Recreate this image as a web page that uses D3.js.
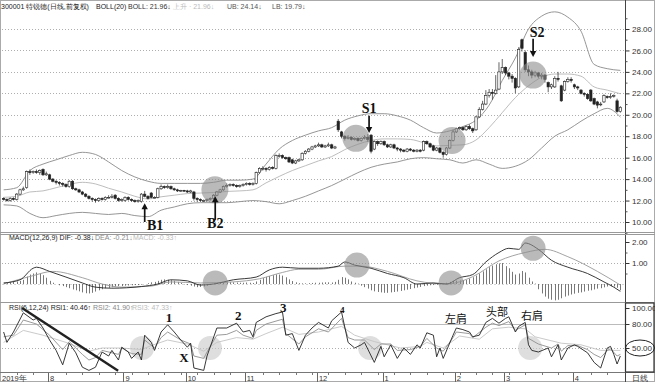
<!DOCTYPE html>
<html>
<head>
<meta charset="utf-8">
<script src="https://cdn.jsdelivr.net/npm/d3@7"></script>
<style>
  body { margin: 0; background: #fff; }
  text { font-family: "Liberation Sans", Arial, sans-serif; }
</style>
</head>
<body>
<svg id="chart" width="655" height="382"></svg>
<script>
// daily candles, 2019-07 .. 2020-04
var opens = [
  12.2,12.1,12.0,12.2,12.1,12.6,13.0,13.2,14.7,14.6,
  14.7,14.6,14.9,14.4,14.4,14.0,13.8,13.7,13.6,13.5,
  13.3,13.8,13.1,13.0,12.8,12.6,12.4,12.2,12.1,12.0,
  12.2,12.1,12.3,12.3,12.5,12.2,12.0,12.0,12.3,12.1,
  12.0,11.9,11.9,12.6,12.4,12.7,12.3,12.3,13.1,13.3,
  13.2,13.3,13.1,13.0,12.9,12.95,12.9,12.8,12.8,12.2,
  12.1,12.0,12.0,12.1,12.2,12.5,12.8,13.0,13.3,13.4,
  13.5,13.4,13.3,13.4,13.5,13.6,13.5,13.6,14.6,15.0,
  15.0,14.9,15.1,15.0,16.2,16.2,16.0,16.0,15.8,15.5,
  15.7,15.8,16.4,16.6,16.8,17.0,17.1,17.2,17.0,17.1,
  17.2,16.9,19.4,18.4,18.0,17.8,17.9,17.7,17.8,17.6,
  17.8,17.9,18.1,16.8,17.5,17.3,17.5,17.2,17.0,17.2,
  16.9,16.8,16.7,16.6,16.8,16.7,16.6,16.7,16.7,17.5,
  17.3,17.1,16.7,16.9,16.5,16.3,16.9,17.6,18.4,18.7,
  18.8,18.6,18.9,18.7,18.6,19.8,20.5,21.0,21.8,22.1,
  22.0,22.4,24.0,24.4,23.9,23.6,23.4,22.6,27.0,25.8,
  24.2,24.0,23.7,23.9,23.6,23.7,23.0,22.6,22.6,23.4,
  22.7,22.3,23.1,23.3,22.8,22.6,22.3,22.0,21.9,22.3,
  21.5,21.2,21.0,21.2,21.7,21.6,21.8,21.3,20.3
];
var highs = [
  12.3,12.2,12.3,12.3,12.7,13.1,13.3,14.8,14.9,14.8,
  14.9,14.9,15.0,14.7,14.5,14.1,13.9,13.8,13.7,13.6,
  13.9,13.9,13.2,13.1,12.9,12.7,12.5,12.3,12.2,12.3,
  12.3,12.4,12.5,12.6,12.6,12.3,12.2,12.4,12.4,12.2,
  12.1,12.1,12.7,12.9,12.5,12.8,12.4,13.2,13.5,13.4,
  13.5,13.4,13.2,13.1,13.0,13.0,13.0,13.0,12.9,12.3,
  12.2,12.1,12.2,12.3,12.6,12.9,13.1,13.4,13.6,13.6,
  13.6,13.5,13.5,13.6,13.7,13.7,13.7,14.7,15.1,15.2,
  15.1,15.2,15.2,16.3,16.4,16.3,16.1,16.1,15.9,15.8,
  15.9,16.5,16.7,16.9,17.1,17.2,17.4,17.3,17.2,17.4,
  17.3,17.1,19.6,18.5,18.1,18.1,18.0,17.9,17.9,17.9,
  18.1,18.2,18.2,17.6,17.6,17.6,17.6,17.3,17.3,17.3,
  17.0,16.9,16.8,16.9,16.9,16.8,16.8,16.8,17.6,17.6,
  17.4,17.2,17.0,17.0,16.6,17.0,17.7,18.6,18.8,18.9,
  18.9,19.0,19.1,18.8,19.9,20.7,21.3,22.3,22.4,22.4,
  23.7,24.9,25.2,24.5,24.0,23.8,23.5,26.3,27.1,26.0,
  24.6,24.2,24.1,24.0,23.9,23.8,23.1,22.9,23.6,24.0,
  22.8,23.2,23.5,23.5,22.9,22.7,22.4,22.1,22.0,22.4,
  21.6,21.3,21.2,21.9,21.8,22.0,21.9,21.5,20.8
];
var lows = [
  12.0,11.9,11.9,12.0,12.0,12.5,12.9,13.1,14.4,14.5,
  14.5,14.4,14.3,14.3,13.9,13.7,13.5,13.4,13.3,13.2,
  13.2,13.0,12.9,12.7,12.5,12.3,12.1,11.9,11.8,11.9,
  12.0,12.0,12.2,12.2,12.1,11.9,11.9,11.9,12.0,11.9,
  11.8,11.8,11.8,12.3,12.1,12.2,12.2,12.2,13.0,13.1,
  13.1,13.0,12.9,12.8,12.8,12.8,12.7,12.7,12.0,11.9,
  11.9,11.9,11.9,12.0,12.1,12.4,12.7,12.9,13.2,13.3,
  13.3,13.2,13.2,13.3,13.4,13.4,13.4,13.5,14.5,14.8,
  14.7,14.8,14.9,14.9,16.0,15.9,15.8,15.5,15.4,15.4,
  15.6,15.7,16.3,16.5,16.7,16.9,17.0,16.9,16.9,17.0,
  16.8,16.8,18.4,17.8,17.6,17.7,17.6,17.6,17.5,17.5,
  17.7,17.5,16.4,16.7,17.1,17.2,17.1,16.9,16.9,16.8,
  16.6,16.5,16.5,16.5,16.6,16.5,16.5,16.5,16.6,17.2,
  16.9,16.6,16.6,16.4,16.0,16.2,16.8,17.5,18.3,18.6,
  18.5,18.5,18.6,18.3,18.5,19.7,20.4,20.9,21.6,21.4,
  21.9,22.3,23.8,23.7,23.3,23.0,22.0,22.5,25.9,24.0,
  23.6,23.4,23.5,23.4,23.3,23.0,22.1,22.4,22.5,23.1,
  21.2,22.2,23.0,23.0,22.4,22.3,21.9,21.7,21.4,21.2,
  20.9,20.6,20.8,21.1,21.5,21.5,21.6,20.2,20.2
];
var closes = [
  12.1,12.0,12.2,12.1,12.6,13.0,13.1,14.7,14.6,14.7,
  14.6,14.8,14.4,14.5,14.0,13.8,13.7,13.6,13.5,13.3,
  13.8,13.1,13.0,12.8,12.6,12.4,12.2,12.1,12.0,12.2,
  12.1,12.3,12.3,12.4,12.2,12.0,12.1,12.3,12.1,12.0,
  11.9,12.0,12.6,12.4,12.2,12.3,12.3,13.1,13.3,13.2,
  13.3,13.1,13.0,12.9,12.95,12.9,12.8,12.9,12.2,12.1,
  12.0,12.0,12.1,12.2,12.5,12.8,13.0,13.3,13.4,13.5,
  13.4,13.3,13.4,13.5,13.6,13.5,13.6,14.6,15.0,15.0,
  14.9,15.1,15.0,16.2,16.2,16.0,15.9,15.6,15.5,15.7,
  15.8,16.4,16.6,16.8,17.0,17.1,17.2,17.0,17.1,17.2,
  16.9,17.0,18.6,18.0,17.8,17.9,17.7,17.8,17.6,17.8,
  17.9,17.7,16.6,17.5,17.3,17.5,17.2,17.0,17.2,16.9,
  16.8,16.7,16.6,16.8,16.7,16.6,16.7,16.6,17.5,17.3,
  17.0,16.7,16.9,16.5,16.3,16.9,17.6,18.4,18.7,18.8,
  18.6,18.9,18.7,18.5,19.8,20.5,21.0,21.8,22.1,22.0,
  22.3,24.0,24.4,23.9,23.6,23.4,22.5,26.1,26.2,24.2,
  24.0,23.7,23.9,23.6,23.7,23.3,22.6,22.8,23.4,23.3,
  21.3,23.1,23.3,23.2,22.6,22.5,22.0,21.9,21.5,21.3,
  21.0,20.9,21.0,21.8,21.6,21.7,21.8,20.3,20.7
];

// BOLL(20) read every 4th day
var bollDays = d3.range(0, 189, 4);
var bollUpper = [
  13.0,13.2,14.8,15.4,15.8,16.2,16.5,16.3,15.6,14.8,
  14.2,13.8,13.6,13.6,13.6,13.6,13.7,13.9,13.9,14.0,
  15.4,16.8,17.6,18.1,18.5,18.8,19.5,19.9,20.1,20.1,
  19.9,19.5,18.8,18.3,18.5,18.9,19.5,20.9,23.2,25.3,
  28.0,29.2,29.6,29.1,27.8,24.7,24.3,24.14
];
var bollMid = [
  12.3,12.4,12.8,12.9,13.2,13.5,13.7,13.55,13.15,12.8,
  12.4,12.15,12.35,12.5,12.65,12.7,12.75,12.85,12.9,13.0,
  13.65,14.25,14.8,15.25,15.7,16.1,16.75,17.25,17.6,17.75,
  17.75,17.7,17.4,17.1,17.15,17.2,17.65,18.8,20.2,21.6,
  22.7,23.5,23.8,23.8,23.6,22.6,22.3,21.96
];
var bollLower = [
  11.6,11.5,10.8,10.4,10.6,10.8,10.9,10.8,10.7,10.8,
  10.6,10.5,11.1,11.4,11.7,11.8,11.8,11.8,11.9,12.0,
  11.9,11.7,12.0,12.4,12.9,13.4,14.0,14.6,15.1,15.4,
  15.6,15.9,16.0,15.9,15.8,15.5,15.8,15.4,15.0,15.2,
  15.8,16.9,18.0,18.6,19.4,20.1,20.6,19.79
];

// MACD(12,26,9)
var difDays = [0,5,9,10,14,19,24,28,33,42, 47,51,56,60,64,70,77,81,85,90,
  96,102,104,107,112,117,122,126,131,135, 139,143,147,151,154,157,159,163,167,172, 178,183,186,188];
var difValues = [0.05,0.2,0.75,0.8,0.6,0.33,0.05,-0.15,-0.2,-0.12, 0.0,0.2,0.15,-0.05,0.0,0.2,0.33,0.67,0.8,0.75,
  0.75,0.85,1.05,0.9,0.75,0.5,0.3,0.0,0.05,0.0, 0.3,0.45,1.05,1.5,1.7,1.65,1.95,1.65,1.13,0.8, 0.5,0.1,-0.15,-0.35];
var deaDays = [0,9,15,24,30,36,45,51,60,70,78,85,90,96,104,109,117,126,135,143,151,159,165,172,181,188];
var deaValues = [0.0,0.4,0.6,0.3,0.0,-0.15,-0.1,0.1,0.05,0.1,0.25,0.55,0.7,0.7,0.85,0.85,0.6,0.15,0.0,0.35,1.1,1.5,1.65,1.3,0.6,-0.05];
var macdBars = [
  0.05,0.06,0.08,0.1,0.12,0.15,0.2,0.35,0.45,0.5,0.55,0.5,0.42,0.3,
  0.15,0.06,0.0,
  -0.06,-0.1,-0.15,-0.2,-0.26,-0.3,-0.35,-0.4,-0.44,-0.45,-0.42,-0.36,-0.3,
  -0.25,-0.2,-0.18,-0.15,-0.12,-0.1,-0.1,-0.08,-0.07,-0.06,-0.05,-0.05,-0.03,0.0,0.04,
  0.08,0.1,0.15,0.2,0.22,0.2,0.18,0.15,0.1,0.05,
  -0.02,-0.05,-0.08,-0.12,-0.15,-0.14,-0.12,-0.08,-0.04,
  0.02,0.04,0.06,0.08,0.08,0.09,0.08,0.07,0.06,0.06,0.07,0.06,0.05,
  0.12,0.2,0.28,0.34,0.38,0.42,0.46,0.45,0.4,0.32,
  0.22,0.14,0.08,0.04,0.03,0.03,0.04,0.05,0.06,
  0.06,0.07,0.08,0.08,0.07,0.1,0.2,0.33,0.3,0.22,0.12,0.06,0.02,
  -0.08,-0.15,-0.22,-0.3,-0.35,-0.38,-0.4,-0.42,-0.42,-0.4,-0.38,-0.36,-0.33,-0.3,-0.27,-0.24,-0.2,-0.17,
  -0.14,-0.1,-0.08,-0.06,-0.05,-0.04,-0.02,0.0,
  0.06,0.1,0.14,0.16,0.17,0.18,0.2,
  0.26,0.32,0.4,0.5,0.6,0.7,0.8,0.88,0.94,0.98,1.0,
  0.85,0.75,0.58,0.45,0.5,0.62,0.55,0.3,
  0.12,0.02,
  -0.25,-0.45,-0.6,-0.7,-0.75,-0.78,-0.75,-0.68,-0.6,-0.55,-0.5,
  -0.46,-0.42,-0.4,-0.36,-0.32,-0.3,-0.26,-0.22,-0.2,-0.16,-0.12,
  -0.1,-0.12,-0.18,-0.3
];

// RSI(6,12,24)
var rsi1Days = [0,1,3,6,9,10,12,14,16,18, 20,22,24,26,28,30,32,33,35,36, 38,39,41,42,43,45,46,48,50,52,
  54,56,57,58,61,62,65,68,71,73, 75,76,77,80,83,85,86,88,90,92, 94,96,99,100,103,105,107,109,110,113,
  115,116,118,120,122,124,126,127,129,131, 132,133,134,137,138,140,142,143,145,147,
  149,151,153,154,156,157,159,160,161,163, 166,167,169,170,172,174,175,178,180,182, 184,185,186,187,188];
var rsi1Values = [70,57,70,94,85,87,75,60,47,29, 56,44,26,22,26,45,40,47,35,51, 45,37,45,35,66,57,47,70,79,70,
  60,51,56,25,22,40,75,75,81,70, 72,64,82,89,93,95,66,68,47,66, 75,82,75,84,95,57,50,54,57,32,
  52,39,54,37,50,42,54,50,69,66, 39,50,37,66,75,73,70,64,66,82,
  87,81,87,89,70,77,82,54,47,45, 50,39,54,35,50,54,52,44,32,25, 50,52,42,30,40];
var rsi2Days = [0,3,6,10,14,18,20,24,26,28, 30,35,36,39,42,43,46,48,50,54, 57,58,61,62,65,68,71,73,76,77,
  80,85,86,90,92,96,99,103,105,107, 110,113,115,118,120,124,127,129,132,134, 137,138,142,143,147,149,151,154,156,159,
  160,163,167,169,170,172,175,178,180,182, 184,185,187,188];
var rsi2Values = [64,66,85,80,66,48,58,42,35,38, 47,42,50,43,42,60,50,63,70,60, 55,40,37,45,66,67,72,66,62,72,
  80,86,68,55,64,74,70,87,63,60, 60,48,55,55,47,48,52,62,50,46, 63,70,68,63,76,81,78,83,72,79,
  62,55,50,55,46,53,53,48,42,38, 47,49,40,42];
var rsi3Days = [0,6,12,19,26,30,36,42,45,50, 56,61,65,71,76,80,85,90,96,103, 107,113,121,127,129,134,139,145,149,154,
  159,162,170,176,182,188];
var rsi3Values = [57,72,66,57,46,50,50,48,53,60, 55,46,57,63,61,68,76,67,70,77, 66,58,50,52,57,50,65,61,74,76,
  74,64,56,54,47,47];

// axes
var priceTicks = [10, 12, 14, 16, 18, 20, 22, 24, 26, 28];
var macdTicks = [1, 2];
var rsiTicks = [50, 80, 100];
var monthLabels = ['8', '9', '10', '11', '12', '1', '2', '3', '4'];
var monthStartDays = [14, 37, 56, 74, 96, 116, 138, 153, 174];

// marks drawn on the chart
var priceCircles = [[64.4, 13.0], [107.4, 17.8], [136.7, 17.6], [161.4, 23.7]];
var macdCircles = [[64.5, 0.05], [107.7, 0.9], [136.4, 0.05], [161.4, 1.7]];
var rsiCircles = [[42.2, 50], [62.9, 50], [111.7, 50], [160.5, 50]];
var signals = [
  { name: 'B1', day: 43, tail: 10.0, tip: 11.75, textDay: 46.2, textPrice: 9.3 },
  { name: 'B2', day: 64.5, tail: 10.2, tip: 12.4, textDay: 64.5, textPrice: 9.4 },
  { name: 'S1', day: 111.4, tail: 19.9, tip: 18.3, textDay: 111.4, textPrice: 20.2 },
  { name: 'S2', day: 161.4, tail: 27.1, tip: 25.4, textDay: 162.6, textPrice: 27.25 }
];
var rsiNotes = [
  { t: '1', day: 50.4, v: 82.5, serif: true, size: 13 },
  { t: 'X', day: 55, v: 32.5, serif: true, size: 13 },
  { t: '2', day: 71.5, v: 85, serif: true, size: 13 },
  { t: '3', day: 85.2, v: 95, serif: true, size: 13 },
  { t: '4', day: 103.2, v: 93.5, serif: true, size: 9 },
  { t: '左肩', day: 137.9, v: 81.5, serif: false, size: 11 },
  { t: '头部', day: 150.4, v: 90, serif: false, size: 11 },
  { t: '右肩', day: 161.1, v: 85, serif: false, size: 11 }
];
var rsiTrend = [[5.6, 100], [34.9, 21.5]];

var svg = d3.select('#chart');
var N = closes.length;
var axisX = 625;

var x = d3.scaleLinear().domain([-0.5, N - 0.5]).range([2, 622]);
var yP = d3.scaleLinear().domain([10, 28]).range([222, 29]);
var yM = d3.scaleLinear().domain([0, 2]).range([284, 242]);
var yR = d3.scaleLinear().domain([50, 100]).range([348, 308]);

var defs = svg.append('defs');
[['clipMain', 1, 1, 624, 232], ['clipMacd', 1, 234, 624, 302], ['clipRsi', 1, 303, 624, 372]].forEach(function (c) {
  defs.append('clipPath').attr('id', c[0]).append('rect')
    .attr('x', c[1]).attr('y', c[2]).attr('width', c[3] - c[1]).attr('height', c[4] - c[2]);
});

// dotted grid
function grid(ticks, y) {
  svg.append('g').selectAll('line').data(ticks).join('line')
    .attr('x1', 2).attr('x2', axisX).attr('y1', function (d) { return Math.round(y(d)) + 0.5; })
    .attr('y2', function (d) { return Math.round(y(d)) + 0.5; })
    .attr('stroke', '#999').attr('stroke-width', 0.8).attr('stroke-dasharray', '1,2');
}
grid(priceTicks, yP);
grid([1], yM);
grid([50], yR);
svg.append('line').attr('x1', 2).attr('x2', axisX).attr('y1', Math.round(yR(80)) + 0.5).attr('y2', Math.round(yR(80)) + 0.5)
  .attr('stroke', '#aaa').attr('stroke-width', 0.8);
svg.append('line').attr('x1', 2).attr('x2', axisX).attr('y1', Math.round(yM(0)) + 0.5).attr('y2', Math.round(yM(0)) + 0.5)
  .attr('stroke', '#bbb').attr('stroke-width', 0.6).attr('stroke-dasharray', '2,2');

// main panel
var main = svg.append('g').attr('clip-path', 'url(#clipMain)');
var bandLine = d3.line().curve(d3.curveMonotoneX)
  .x(function (d) { return x(d[0]); }).y(function (d) { return yP(d[1]); });
[[bollUpper, '#8a8a8a'], [bollLower, '#8a8a8a'], [bollMid, '#b5b5b5']].forEach(function (b) {
  main.append('path').datum(bollDays.map(function (d, i) { return [d, b[0][i]]; }))
    .attr('d', bandLine).attr('fill', 'none').attr('stroke', b[1]).attr('stroke-width', 0.9);
});

var candles = closes.map(function (c, i) { return { i: i, o: opens[i], h: highs[i], l: lows[i], c: c }; });
var bw = (x(1) - x(0)) * 0.72;
main.append('g').selectAll('line').data(candles).join('line')
  .attr('x1', function (d) { return x(d.i); }).attr('x2', function (d) { return x(d.i); })
  .attr('y1', function (d) { return yP(d.h); }).attr('y2', function (d) { return yP(d.l); })
  .attr('stroke', '#222').attr('stroke-width', 0.7);
main.append('g').selectAll('rect').data(candles).join('rect')
  .attr('x', function (d) { return x(d.i) - bw / 2; })
  .attr('y', function (d) { return yP(Math.max(d.o, d.c)); })
  .attr('width', bw)
  .attr('height', function (d) { return Math.max(0.8, Math.abs(yP(d.o) - yP(d.c))); })
  .attr('fill', function (d) { return d.c >= d.o ? '#fff' : '#222'; })
  .attr('stroke', '#222').attr('stroke-width', 0.6);

main.append('g').selectAll('circle').data(priceCircles).join('circle')
  .attr('cx', function (d) { return x(d[0]); }).attr('cy', function (d) { return yP(d[1]); })
  .attr('r', 13.5).attr('fill', '#8c8c8c').attr('fill-opacity', 0.6);

// signal arrows
var sig = svg.append('g');
signals.forEach(function (s) {
  var sx = x(s.day), y0 = yP(s.tail), y1 = yP(s.tip), dir = y1 > y0 ? 1 : -1;
  sig.append('line').attr('x1', sx).attr('x2', sx).attr('y1', y0).attr('y2', y1 - dir * 5)
    .attr('stroke', '#111').attr('stroke-width', 1.7);
  sig.append('path').attr('d', 'M' + (sx - 3.2) + ',' + (y1 - dir * 6) + 'L' + (sx + 3.2) + ',' + (y1 - dir * 6) + 'L' + sx + ',' + y1 + 'Z')
    .attr('fill', '#111');
  sig.append('text').attr('x', x(s.textDay)).attr('y', yP(s.textPrice)).attr('text-anchor', 'middle')
    .style('font-family', '"Liberation Serif", "Times New Roman", serif').attr('font-weight', 'bold')
    .attr('font-size', 14).attr('fill', '#111').text(s.name);
});

// MACD panel
var macd = svg.append('g').attr('clip-path', 'url(#clipMacd)');
macd.append('g').selectAll('line').data(macdBars).join('line')
  .attr('x1', function (d, i) { return Math.round(x(i)) + 0.5; }).attr('x2', function (d, i) { return Math.round(x(i)) + 0.5; })
  .attr('y1', yM(0)).attr('y2', function (d) { return yM(d); })
  .attr('stroke', '#555').attr('stroke-width', 0.8);
var mLine = d3.line().curve(d3.curveMonotoneX)
  .x(function (d) { return x(d[0]); }).y(function (d) { return yM(d[1]); });
macd.append('path').datum(deaDays.map(function (d, i) { return [d, deaValues[i]]; }))
  .attr('d', mLine).attr('fill', 'none').attr('stroke', '#999').attr('stroke-width', 0.9);
macd.append('path').datum(difDays.map(function (d, i) { return [d, difValues[i]]; }))
  .attr('d', mLine).attr('fill', 'none').attr('stroke', '#222').attr('stroke-width', 0.9);
macd.append('g').selectAll('circle').data(macdCircles).join('circle')
  .attr('cx', function (d) { return x(d[0]); }).attr('cy', function (d) { return yM(d[1]); })
  .attr('r', 12.5).attr('fill', '#8c8c8c').attr('fill-opacity', 0.6);

// RSI panel
var rsi = svg.append('g').attr('clip-path', 'url(#clipRsi)');
rsi.append('g').selectAll('circle').data(rsiCircles).join('circle')
  .attr('cx', function (d) { return x(d[0]); }).attr('cy', function (d) { return yR(d[1]); })
  .attr('r', 12).attr('fill', '#c8c8c8').attr('fill-opacity', 0.6);
var rLine = d3.line().x(function (d) { return x(d[0]); }).y(function (d) { return yR(d[1]); });
[[rsi3Days, rsi3Values, '#c4c4c4'], [rsi2Days, rsi2Values, '#8f8f8f'], [rsi1Days, rsi1Values, '#222']].forEach(function (r) {
  rsi.append('path').datum(r[0].map(function (d, i) { return [d, r[1][i]]; }))
    .attr('d', rLine).attr('fill', 'none').attr('stroke', r[2]).attr('stroke-width', 0.9);
});
rsi.append('path').datum(rsiTrend).attr('d', rLine).attr('stroke', '#222').attr('stroke-width', 2.4).attr('fill', 'none');
svg.append('g').selectAll('text').data(rsiNotes).join('text')
  .attr('x', function (d) { return x(d.day); }).attr('y', function (d) { return yR(d.v); })
  .attr('text-anchor', 'middle').attr('font-size', function (d) { return d.size; })
  .attr('font-weight', function (d) { return d.serif ? 'bold' : 'normal'; })
  .style('font-family', function (d) { return d.serif ? '"Liberation Serif", serif' : '"Noto Sans CJK SC", sans-serif'; })
  .attr('fill', '#111').text(function (d) { return d.t; });

// frame
var frame = svg.append('g').attr('fill', 'none');
frame.append('rect').attr('x', 0.5).attr('y', 0.5).attr('width', 654).attr('height', 381).attr('stroke', '#aaa');
frame.append('line').attr('x1', axisX + 0.5).attr('x2', axisX + 0.5).attr('y1', 0).attr('y2', 382).attr('stroke', '#444');
[[232.5, '#999'], [234.5, '#999'], [302.5, '#999'], [372.5, '#777']].forEach(function (l) {
  frame.append('line').attr('x1', 0).attr('x2', 655).attr('y1', l[0]).attr('y2', l[0]).attr('stroke', l[1]);
});
frame.append('rect').attr('x', axisX + 0.5).attr('y', 303).attr('width', 28.5).attr('height', 69).attr('stroke', '#333').attr('stroke-width', 1.2);
frame.append('ellipse').attr('cx', 640).attr('cy', yR(50)).attr('rx', 14.5).attr('ry', 8).attr('stroke', '#222').attr('stroke-width', 1);

// right axes
function rightAxis(scale, ticks, minor) {
  var g = svg.append('g').attr('transform', 'translate(' + (axisX + 0.5) + ',0)');
  g.call(d3.axisRight(scale).tickValues(ticks).tickSize(4).tickPadding(2.5).tickFormat(d3.format('.2f')))
    .call(function (a) { a.select('.domain').remove(); })
    .attr('font-size', 8).attr('font-family', '"Liberation Sans", Arial, sans-serif').attr('color', '#333');
  if (minor) {
    svg.append('g').attr('transform', 'translate(' + (axisX + 0.5) + ',0)')
      .call(d3.axisRight(scale).tickValues(minor).tickSize(2).tickFormat(''))
      .call(function (a) { a.select('.domain').remove(); }).attr('color', '#555');
  }
}
rightAxis(yP, priceTicks, d3.range(9, 30, 2));
rightAxis(yM, macdTicks, [0.5, 1.5]);
rightAxis(yR, rsiTicks, null);

// bottom date axis
var dates = svg.append('g');
dates.selectAll('line.m').data(monthStartDays).join('line').attr('class', 'm')
  .attr('x1', function (d) { return Math.round(x(d - 0.5)) + 0.5; }).attr('x2', function (d) { return Math.round(x(d - 0.5)) + 0.5; })
  .attr('y1', 373).attr('y2', 382).attr('stroke', '#666');
dates.selectAll('line.w').data(d3.range(4, N, 5).filter(function (d) { return monthStartDays.indexOf(d) < 0; })).join('line').attr('class', 'w')
  .attr('x1', function (d) { return Math.round(x(d)) + 0.5; }).attr('x2', function (d) { return Math.round(x(d)) + 0.5; })
  .attr('y1', 373).attr('y2', 375).attr('stroke', '#777');
dates.selectAll('text').data(monthLabels).join('text')
  .attr('x', function (d, i) { return x(monthStartDays[i] - 0.5) + 2; }).attr('y', 380.5)
  .attr('font-size', 7.5).attr('fill', '#333').text(function (d) { return d; });
dates.append('text').attr('x', 2).attr('y', 380.5).attr('font-size', 7.5).attr('fill', '#333').text('2019年');
dates.append('text').attr('x', 640).attr('y', 380.5).attr('text-anchor', 'middle').attr('font-size', 8).attr('fill', '#333').text('日线');

// panel titles
function title(parts, y) {
  svg.append('g').selectAll('text').data(parts).join('text')
    .attr('x', function (d) { return d[1]; }).attr('y', y).attr('font-size', 7)
    .attr('fill', function (d) { return d[2]; }).text(function (d) { return d[0]; });
}
title([['300001 特锐德(日线,前复权)', 1, '#222'], ['BOLL(20)', 96, '#222'], ['BOLL: 21.96↓', 128, '#333'],
  ['上升 · 21.96↓', 173, '#bbb'], ['UB: 24.14↓', 227, '#555'], ['LB: 19.79↓', 272, '#555']], 8.5);
title([['MACD(12,26,9) DIF: -0.38↓', 9, '#222'], ['DEA: -0.21↓', 95, '#888'], ['MACD: -0.33↑', 133, '#bbb']], 240);
title([['RSI(6,12,24) RSI1: 40.46↑', 9, '#222'], ['RSI2: 41.90↑', 93, '#888'], ['RSI3: 47.33↑', 132, '#bbb']], 310);
</script>
</body>
</html>
